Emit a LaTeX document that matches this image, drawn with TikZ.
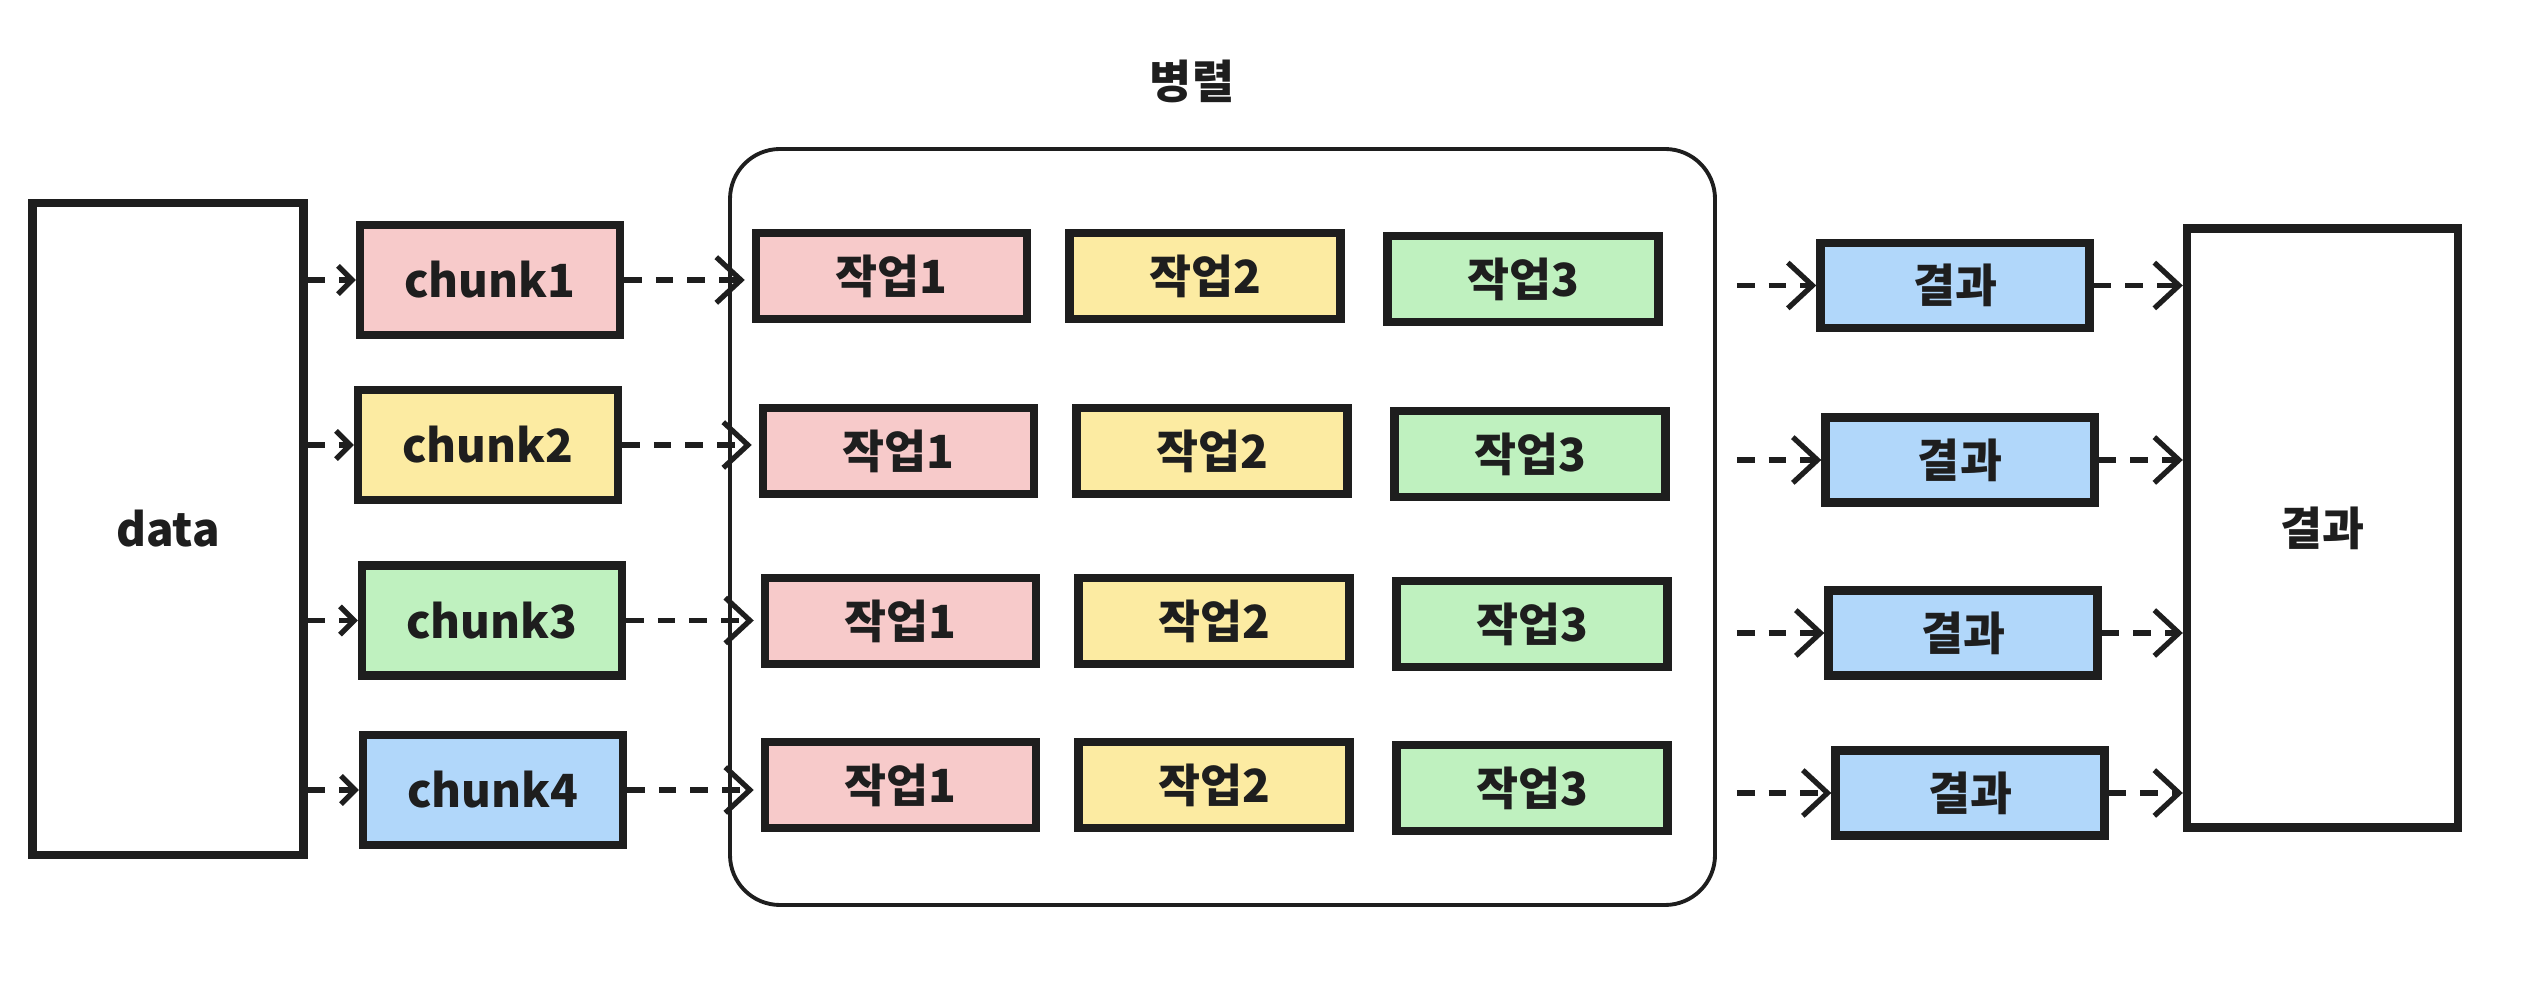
\documentclass[tikz,border=0pt]{standalone}
\usepackage{fontspec}
\setmainfont{Noto Sans CJK KR}
\usepackage{xcolor}
\usetikzlibrary{arrows.meta}

\definecolor{ink}{HTML}{1E1E1E}
\definecolor{redbg}{HTML}{F7CACA}
\definecolor{yellowbg}{HTML}{FCEBA2}
\definecolor{greenbg}{HTML}{BFF1BF}
\definecolor{bluebg}{HTML}{B1D7FA}

\begin{document}
\begin{tikzpicture}[font=\fontsize{13}{15}\selectfont\bfseries,
    box/.style={draw=ink, line width=2.4pt, text=ink, minimum width=2.71cm, minimum height=0.86cm, inner sep=0pt},
    arr/.style={draw=ink, line width=1.5pt, dash pattern=on 5pt off 4pt, -{Straight Barb[length=7pt, width=13pt]}},
    shortarr/.style={arr, -{Straight Barb[length=4pt, width=8pt]}}]

    \useasboundingbox (0,0) rectangle (25.44,9.96);

    % Input
    \node[box, minimum height=6.52cm] (data) at (1.68,4.67) {data};

    % Chunks
    \foreach \i/\x/\y/\c in {1/4.90/7.16/redbg, 2/4.88/5.51/yellowbg, 3/4.92/3.755/greenbg, 4/4.93/2.06/bluebg} {
        \node[box, fill=\c, minimum width=2.6cm, minimum height=1.1cm] (c\i) at (\x,\y) {chunk\i};
    }

    % Parallel block
    \node[draw=ink, line width=1.1pt, rounded corners=0.5cm, minimum width=9.85cm, minimum height=7.56cm] (par) at (12.225,4.69) {};
    \node[text=ink] (title) at (11.92,9.15) {병렬};

    \foreach \r/\y/\dx in {1/7.20/0, 2/5.45/0.07, 3/3.75/0.09, 4/2.11/0.09} {
        \node[box, fill=redbg] (t\r1) at (8.915+\dx,\y) {작업1};
        \node[box, fill=yellowbg] (t\r2) at (12.05+\dx,\y) {작업2};
        \node[box, fill=greenbg] (t\r3) at (15.23+\dx,\y-0.03) {작업3};
    }

    % Results
    \foreach \r/\x/\y in {1/19.55/7.105, 2/19.60/5.36, 3/19.63/3.63, 4/19.70/2.03} {
        \node[box, fill=bluebg, minimum width=2.69cm, minimum height=0.85cm] (r\r) at (\x,\y) {결과};
    }
    \node[box, minimum height=5.99cm] (out) at (23.225,4.68) {결과};

    % Arrows
    \foreach \r in {1,...,4} {
        \draw[shortarr] (data.east |- c\r) -- (c\r);
        \draw[arr, shorten >=2pt] (c\r) -- (t\r1.west |- c\r);
        \draw[arr, shorten <=0.2cm] (par.east |- r\r) -- (r\r);
        \draw[arr] (r\r) -- (out.west |- r\r);
    }
\end{tikzpicture}
\end{document}
